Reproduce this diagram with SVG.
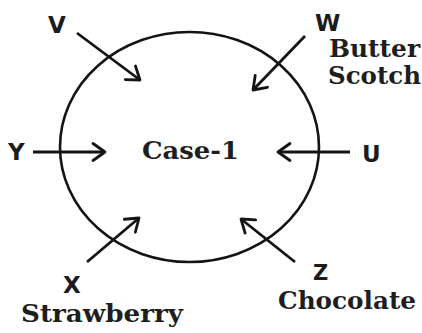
<svg xmlns="http://www.w3.org/2000/svg" width="422" height="333" viewBox="0 0 422 333">
<style>
.bg{fill:#ffffff}
.ring{fill:none;stroke:#141414;stroke-width:2.6}
.conn{stroke:#141414;stroke-width:2.8;fill:none;marker-end:url(#head)}
.letter{font-family:"DejaVu Sans","Verdana",sans-serif;font-weight:bold;font-size:23px;fill:#1c1c1c}
.word{font-family:"DejaVu Serif","Liberation Serif",serif;font-weight:bold;font-size:25px;fill:#1e1e1e}
</style>
<defs>
<marker id="head" markerUnits="userSpaceOnUse" markerWidth="30" markerHeight="30" refX="0" refY="0" orient="auto" overflow="visible">
<path d="M-12,-8.5 L0,0 L-12,8.5" fill="none" stroke="#141414" stroke-width="2.8" stroke-linejoin="round" stroke-linecap="round"/>
</marker>
</defs>
<rect class="bg" x="0" y="0" width="422" height="333"/>
<g id="case1">
<ellipse class="ring" cx="189.5" cy="147" rx="129.5" ry="115"/>
<text class="word" x="142" y="159" textLength="97" lengthAdjust="spacingAndGlyphs">Case-1</text>
</g>
<g id="V"><text class="letter" x="48" y="33">V</text></g>
<g id="W">
<text class="letter" x="315" y="31">W</text>
<text class="word" x="329" y="57" textLength="91" lengthAdjust="spacingAndGlyphs">Butter</text>
<text class="word" x="328" y="84" textLength="93" lengthAdjust="spacingAndGlyphs">Scotch</text>
</g>
<g id="Y"><text class="letter" x="8" y="160">Y</text></g>
<g id="U"><text class="letter" x="362" y="162">U</text></g>
<g id="X">
<text class="letter" x="63" y="293">X</text>
<text class="word" x="21" y="322" textLength="162" lengthAdjust="spacingAndGlyphs">Strawberry</text>
</g>
<g id="Z">
<text class="letter" x="313" y="280" style="font-size:21px">Z</text>
<text class="word" x="278" y="309" textLength="138" lengthAdjust="spacingAndGlyphs">Chocolate</text>
</g>
<g id="connectors">
<line class="conn" x1="77" y1="33" x2="140" y2="80"/>
<line class="conn" x1="305" y1="36" x2="253" y2="90"/>
<line class="conn" x1="33" y1="152" x2="105" y2="152"/>
<line class="conn" x1="350" y1="152" x2="278" y2="152"/>
<line class="conn" x1="87" y1="262" x2="139" y2="218"/>
<line class="conn" x1="295" y1="262" x2="241" y2="219"/>
</g>
</svg>
